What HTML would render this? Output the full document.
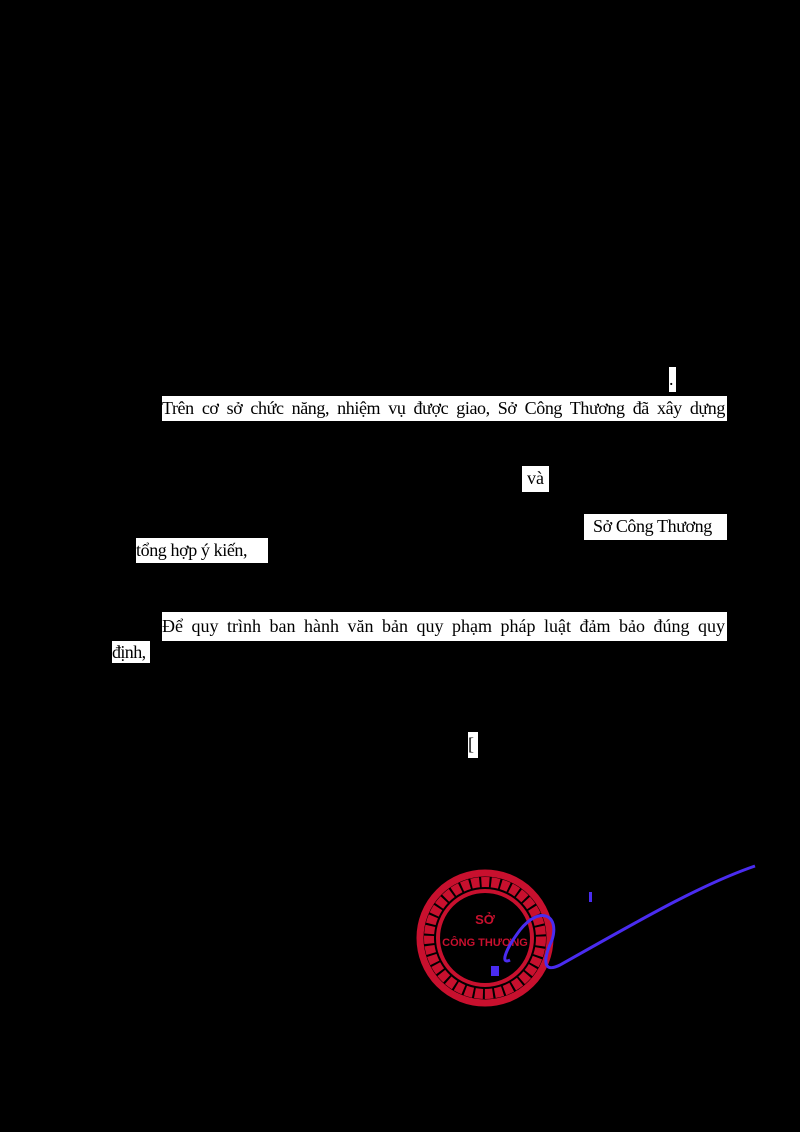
<!DOCTYPE html>
<html><head><meta charset="utf-8"><style>
html,body{margin:0;padding:0;background:#000;}
body{width:800px;height:1132px;position:relative;overflow:hidden;font-family:"Liberation Serif",serif;font-size:18px;color:#000;}
.b{position:absolute;background:#fff;white-space:nowrap;line-height:25px;overflow:hidden;}
.j{text-align:justify;text-align-last:justify;}
</style></head><body>
<div class="b" style="left:669px;top:367px;width:7px;height:25px;">.</div>
<div class="b j" style="left:162px;top:396px;width:563px;padding-right:2px;height:25px;letter-spacing:-0.4px;">Trên cơ sở chức năng, nhiệm vụ được giao, Sở Công Thương đã xây dựng</div>
<div class="b" style="left:522px;top:466px;width:27px;height:26px;padding-left:5px;box-sizing:border-box;">và</div>
<div class="b" style="left:584px;top:514px;width:143px;height:26px;padding-left:9px;box-sizing:border-box;letter-spacing:-0.4px;">Sở Công Thương</div>
<div class="b" style="left:136px;top:538px;width:132px;height:25px;letter-spacing:-0.4px;">tổng hợp ý kiến,</div>
<div class="b j" style="left:162px;top:612px;width:563px;padding-right:2px;height:29px;line-height:29px;">Để quy trình ban hành văn bản quy phạm pháp luật đảm bảo đúng quy</div>
<div class="b" style="left:112px;top:641px;width:38px;height:22px;line-height:22px;letter-spacing:-0.6px;">định,</div>
<div class="b" style="left:468px;top:732px;width:10px;height:26px;">[</div>
<svg style="position:absolute;left:0;top:0" width="800" height="1132">
<g fill="none" stroke="#c8102e">
<circle cx="485" cy="938" r="65" stroke-width="7"/>
<circle cx="485" cy="938" r="47" stroke-width="4"/>
<circle cx="485" cy="938" r="56" stroke-width="10" stroke-dasharray="8 2"/>
</g>
<text x="485" y="924" fill="#c8102e" font-family="Liberation Sans" font-weight="bold" font-size="13" text-anchor="middle">SỞ</text>
<text x="485" y="946" fill="#c8102e" font-family="Liberation Sans" font-weight="bold" font-size="11" text-anchor="middle">CÔNG THƯƠNG</text>
<path d="M755 866 C700 885 640 920 560 965 C540 975 545 955 552 940 C560 915 540 905 520 930 C505 950 500 965 510 960" fill="none" stroke="#4a2cf0" stroke-width="3"/>
<rect x="491" y="966" width="8" height="10" fill="#4a2cf0"/>
<rect x="589" y="892" width="3" height="10" fill="#4a2cf0"/>
</svg>
</body></html>
